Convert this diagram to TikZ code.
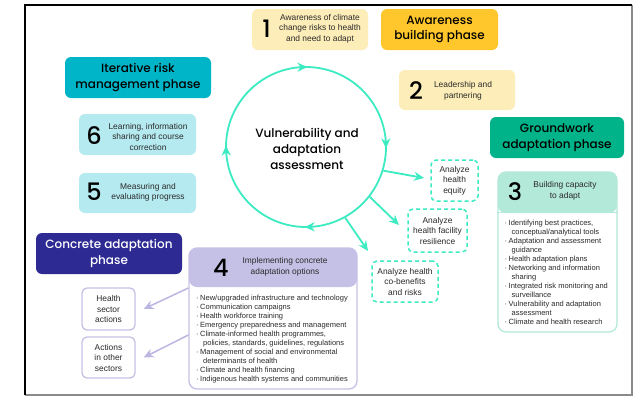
\documentclass[tikz,border=0pt]{standalone}
\usepackage{fontspec}
\setmainfont{Liberation Sans}
\newfontfamily\popfont{Poppins Medium}
\usetikzlibrary{arrows.meta,calc}

\definecolor{gold}{HTML}{FFC72C}
\definecolor{paleyellow}{HTML}{FDEDB8}
\definecolor{gwgreen}{HTML}{00B388}
\definecolor{palemint}{HTML}{B3E9D9}
\definecolor{irteal}{HTML}{00B5C8}
\definecolor{palecyan}{HTML}{B5EAF0}
\definecolor{navy}{HTML}{2D2A94}
\definecolor{lavender}{HTML}{C5C1E6}
\definecolor{lavarrow}{HTML}{BBB6E2}
\definecolor{mint}{HTML}{3CEBC2}
\definecolor{txtgray}{HTML}{2A2A2A}
\definecolor{framegray}{HTML}{8A8A8A}

\newcommand{\bul}{\makebox[4pt][l]{·}}
\newcommand{\cont}{\hspace*{7pt}}

\begin{document}
\begin{tikzpicture}[x=1pt,y=-1pt,
  phase/.style={rounded corners=6pt, inner sep=0pt, align=center,
    font=\popfont\fontsize{12}{15.5}\selectfont},
  stepbox/.style={rounded corners=6pt, inner sep=0pt},
  smalltxt/.style={inner sep=0pt, align=center, text=txtgray,
    font=\fontsize{8.4}{10.5}\selectfont},
  num/.style={inner sep=0pt, font=\popfont\fontsize{24}{24}\selectfont},
  bullets/.style={inner sep=0pt, align=left, anchor=north west, text=txtgray,
    font=\fontsize{7.5}{9}\selectfont},
  dashbox/.style={draw=mint, line width=1.5pt, dash pattern=on 4pt off 3pt,
    rounded corners=5pt, inner sep=0pt},
  lavbox/.style={draw=lavender, line width=1.3pt, rounded corners=5pt, inner sep=0pt},
  cyclearrow/.style={draw=mint, line width=1.8pt, -{Stealth[length=10pt,width=9pt]}},
  radial/.style={draw=mint, line width=1.8pt, -{Stealth[length=10pt,width=9pt]}},
  lavline/.style={draw=lavarrow, line width=1.5pt, -{Stealth[length=10pt,width=9pt]}}
]
\useasboundingbox (0,0) rectangle (636,397);
\fill[white] (0,0) rectangle (636,397);

% page frame
\draw[framegray, line width=1.2pt] (632,5) -- (632,395) -- (25,395);
\draw[black, line width=1.8pt] (25,395) -- (25,5) -- (632,5);

% phase labels
\node[phase, fill=gold, minimum width=117pt, minimum height=41pt] (awph) at (439.5,29.5) {Awareness\\building phase};
\node[phase, fill=gwgreen, minimum width=134pt, minimum height=41pt] (gwph) at (557,137.5) {Groundwork\\adaptation phase};
\node[phase, fill=irteal, minimum width=146pt, minimum height=41pt] (irph) at (138,77.5) {Iterative risk\\management phase};
\node[phase, fill=navy, text=white, minimum width=146pt, minimum height=41pt] (caph) at (109,253.5) {Concrete adaptation\\phase};

% steps 1, 2, 5, 6
\node[stepbox, fill=paleyellow, minimum width=116pt, minimum height=41pt] (b1) at (310,29.5) {};
\node[num] (n1) at (266.5,29) {1};
\node[smalltxt] (t1) at (320,28.7) {Awareness of climate\\change risks to health\\and need to adapt};

\node[stepbox, fill=paleyellow, minimum width=116pt, minimum height=40pt] (b2) at (457,90) {};
\node[num] (n2) at (416,91) {2};
\node[smalltxt] (t2) at (463,91) {Leadership and\\partnering};

\node[stepbox, fill=palecyan, minimum width=117pt, minimum height=41pt] (b6) at (137.5,134.5) {};
\node[num] (n6) at (94,136) {6};
\node[smalltxt] (t6) at (148,136.5) {Learning, information\\sharing and course\\correction};

\node[stepbox, fill=palecyan, minimum width=117pt, minimum height=40pt] (b5) at (137.5,193) {};
\node[num] (n5) at (94,192) {5};
\node[smalltxt] (t5) at (148,192.5) {Measuring and\\evaluating progress};

% step 3
\node[draw=palemint, line width=1.3pt, rounded corners=8pt, inner sep=0pt,
  minimum width=119pt, minimum height=160pt,
  path picture={\fill[palemint] (path picture bounding box.north west) rectangle
    ([yshift=-41pt]path picture bounding box.north east);}] (b3) at (557.5,252) {};
\draw[palemint, line width=1.3pt] ([yshift=-41pt]b3.north west) -- ([yshift=-41pt]b3.north east);
\node[num] (n3) at (515,192) {3};
\node[smalltxt] (t3) at (565,191) {Building capacity\\to adapt};
\node[bullets] (l3) at (504.5,219.5) {\bul Identifying best practices,\\\cont conceptual/analytical tools\\\bul Adaptation and assessment\\\cont guidance\\\bul Health adaptation plans\\\bul Networking and information\\\cont sharing\\\bul Integrated risk monitoring and\\\cont surveillance\\\bul Vulnerability and adaptation\\\cont assessment\\\bul Climate and health research};

% step 4
\node[draw=lavender, line width=1.3pt, rounded corners=8pt, inner sep=0pt,
  minimum width=168pt, minimum height=141pt,
  path picture={\fill[lavender] (path picture bounding box.north west) rectangle
    ([yshift=-39pt]path picture bounding box.north east);}] (b4) at (273,318.5) {};
\node[num] (n4) at (221,268) {4};
\node[smalltxt] (t4) at (285,267) {Implementing concrete\\adaptation options};
\node[bullets] (l4) at (196,294.5) {\bul New/upgraded infrastructure and technology\\\bul Communication campaigns\\\bul Health workforce training\\\bul Emergency preparedness and management\\\bul Climate-informed health programmes,\\\cont policies, standards, guidelines, regulations\\\bul Management of social and environmental\\\cont determinants of health\\\bul Climate and health financing\\\bul Indigenous health systems and communities};

% sector actions
\node[lavbox, smalltxt, minimum width=53pt, minimum height=42pt] (hs) at (108.5,309) {Health\\sector\\actions};
\node[lavbox, smalltxt, minimum width=53pt, minimum height=41pt] (ao) at (108.5,357.5) {Actions\\in other\\sectors};
\draw[lavline] (b4.west |- 0,288) -- ([xshift=8pt]hs.east);
\draw[lavline] (b4.west |- 0,335) -- ([xshift=8pt]ao.east);

% assessment cycle
\node[circle, draw=mint, line width=1.8pt, minimum size=160pt, inner sep=0pt] (vc) at (306,147) {};
\node[inner sep=0pt, align=center, font=\popfont\fontsize{12}{16}\selectfont] (vt) at (307,149) {Vulnerability and\\adaptation\\assessment};
\draw[cyclearrow] ($(vc.center)+(-93:80)$) -- ($(vc.center)+(-89:80)$);
\draw[cyclearrow] ($(vc.center)+(-3:80)$) -- ($(vc.center)+(1:80)$);
\draw[cyclearrow] ($(vc.center)+(87:80)$) -- ($(vc.center)+(91:80)$);
\draw[cyclearrow] ($(vc.center)+(177:80)$) -- ($(vc.center)+(181:80)$);

% analyses
\node[dashbox, smalltxt, minimum width=47pt, minimum height=41pt] (eq) at (454.5,180.5) {Analyze\\health\\equity};
\node[dashbox, smalltxt, minimum width=59pt, minimum height=43pt] (res) at (437.5,230.5) {Analyze\\health facility\\resilience};
\node[dashbox, smalltxt, minimum width=66pt, minimum height=41pt] (cb) at (405,281.5) {Analyze health\\co-benefits\\and risks};
\coordinate (e1) at (424,178);
\coordinate (e2) at (399,225);
\coordinate (e3) at (368,251);
\draw[radial] (vc.-17) -- (e1);
\draw[radial] (vc.-38) -- (e2);
\draw[radial] (vc.-61) -- (e3);
\end{tikzpicture}
\end{document}
